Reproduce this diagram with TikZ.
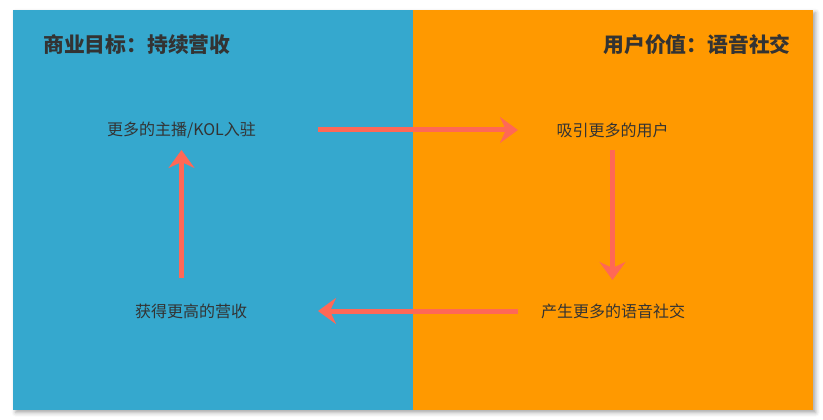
\documentclass[tikz,border=0pt]{standalone}
\usepackage{fontspec}
\newfontfamily\cjk{Noto Sans CJK SC}
\usetikzlibrary{arrows.meta}
\usetikzlibrary{shadows.blur}
\definecolor{panelblue}{RGB}{53,168,206}
\definecolor{panelorange}{RGB}{255,153,0}
\definecolor{flowred}{RGB}{255,104,86}
\definecolor{textgray}{RGB}{51,51,51}

\begin{document}
\begin{tikzpicture}[x=0.75pt,y=0.75pt,yscale=-1,xscale=1,
  title/.style={font=\cjk\bfseries\fontsize{15.6}{18}\selectfont,text=textgray,inner sep=0pt},
  label/.style={font=\cjk\fontsize{12}{14}\selectfont,text=textgray,inner sep=0pt},
  flow/.style={draw=flowred,line width=3.75pt,-{Stealth[length=13.5pt,width=19.5pt,inset=4.5pt]}}]
\useasboundingbox (0,0) rectangle (823,420);

%Shape: Shadow
\fill[white,blur shadow={shadow xshift=2pt,shadow yshift=-2pt,shadow blur radius=3pt,shadow opacity=35}] (13,10) rectangle (813,410);
%Shape: Rectangle [id:left panel]
\fill[panelblue] (13,10) rectangle (413,410);
%Shape: Rectangle [id:right panel]
\fill[panelorange] (413,10) rectangle (813,410);

% Text Node
\node[title,anchor=west] (goal) at (43,45) {商业目标：持续营收};
% Text Node
\node[title,anchor=east] (value) at (791,45) {用户价值：语音社交};
% Text Node
\node[label] (kol) at (181.5,130) {更多的主播/KOL入驻};
% Text Node
\node[label] (user) at (612.5,130) {吸引更多的用户};
% Text Node
\node[label] (voice) at (613,311) {产生更多的语音社交};
% Text Node
\node[label] (revenue) at (191,311) {获得更高的营收};

%Straight Lines
\draw[flow,shorten <=102.4pt,shorten >=70.9pt] (kol.center) -- (user.center);
\draw[flow,shorten <=15pt,shorten >=23.25pt] (user.center) -- (user.center |- voice.center);
\draw[flow,shorten <=71.25pt,shorten >=95.25pt] (voice.center) -- (revenue.center);
\draw[flow,shorten <=24.75pt,shorten >=15pt] (kol.center |- revenue.center) -- (kol.center);
\end{tikzpicture}
\end{document}
